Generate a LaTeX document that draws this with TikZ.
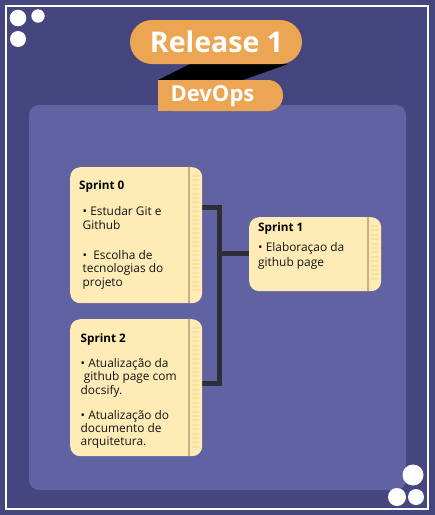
\documentclass[tikz,border=0pt]{standalone}
\usepackage{fontspec}
\setmainfont{Open Sans}
\definecolor{bgc}{HTML}{45467F}
\definecolor{panelc}{HTML}{6162A1}
\definecolor{orangec}{HTML}{ECA653}
\definecolor{creamc}{HTML}{FEEBB6}
\definecolor{stripc}{HTML}{C6B086}
\definecolor{stripec}{HTML}{FCE19B}
\definecolor{linec}{HTML}{2E2E36}
\tikzset{
  sticky/.style={fill=creamc, rounded corners=10pt, draw=none},
  ttl/.style={anchor=base west, inner sep=0pt, font=\fontsize{11.7}{13}\selectfont\bfseries, text=black},
  txt/.style={anchor=base west, inner sep=0pt, font=\fontsize{11.9}{13}\selectfont, text=black!92},
  conn/.style={draw=linec, line width=5pt},
  dot/.style={fill=white, draw=none},
  stripe/.style={draw=stripec, line width=2pt, line cap=round},
}
% #1 name, #2 x0, #3 y0, #4 x1, #5 y1
\newcommand{\mysticky}[5]{%
  \node[inner sep=0pt, minimum width={#4-#2}, minimum height={#5-#3}, anchor=north west, fill=creamc, rounded corners=10pt] (#1) at (#2,#3) {};
  \fill[stripc] ({#4-14.3},#3) rectangle ({#4-11.7},#5);
  \pgfmathsetmacro{\ystart}{#3+9}
  \pgfmathsetmacro{\ysecond}{#3+13.4}
  \pgfmathsetmacro{\yend}{#5-9}
  \foreach \yy in {\ystart,\ysecond,...,\yend}{%
    \draw[stripe] ({#4-9.5},\yy) -- ({#4-3.5},\yy);
  }%
}
\begin{document}
\begin{tikzpicture}[x=1pt,y=-1pt]
\useasboundingbox (0,0) rectangle (435,515);
\fill[bgc] (0,0) rectangle (435,515);
\draw[white, line width=2pt] (6,6) rectangle (428,509);
% corner dots
\fill[dot] (18,18) circle (8.3);
\fill[dot] (38,16) circle (6.7);
\fill[dot] (18,39) circle (8);
% panel
\fill[panelc, rounded corners=10pt] (29,105) rectangle (406,490);
% bottom-right dots
\fill[dot] (413,475) circle (10.5);
\fill[dot] (397,497) circle (9);
\fill[dot] (416,497) circle (8);
% Release pill and shadow
\fill[black] (190,64) -- (288,64) -- (243,80) -- (158,80) -- cycle;
\fill[orangec, rounded corners=22pt] (130,20) rectangle (302,64);
\node[inner sep=0pt, text=white, font=\fontsize{28.5}{30}\selectfont\bfseries] (rel) at (216.5,42) {Release 1};
% DevOps pill
\fill[orangec, rounded corners=15pt] (158,80) rectangle (283,111);
\fill[orangec] (158,80) rectangle (178,111);
\node[inner sep=0pt, text=white, font=\fontsize{22}{23}\selectfont\bfseries] (devops) at (212.5,96) {DevOps};
% connectors
\coordinate (j0) at (219.5,207.5);
\coordinate (j1) at (219.5,253);
\coordinate (j2) at (219.5,383);
\draw[conn] (195,207.5) -- (j0) -- (j2) -- (195,383);
\draw[conn] (j1) -- (255,253);
% stickies
\mysticky{s0}{70}{167}{202}{303}
\mysticky{s1}{249}{217}{381}{291}
\mysticky{s2}{70}{319}{202}{456}
% Sprint 0 text
\node[ttl] (s0t) at (79,189) {Sprint 0};
\node[txt] (s0a) at (82.5,215.5) {• Estudar Git e};
\node[txt] (s0b) at (82.5,229) {Github};
\node[txt] (s0c) at (82.5,259) {•\ \ Escolha de};
\node[txt] (s0d) at (82.5,272.5) {tecnologias do};
\node[txt] (s0e) at (82.5,286.5) {projeto};
% Sprint 1 text
\node[ttl] (s1t) at (258,231) {Sprint 1};
\node[txt] (s1a) at (258,251) {• Elaboraçao da};
\node[txt] (s1b) at (258,266) {github page};
% Sprint 2 text
\node[ttl] (s2t) at (80.5,342) {Sprint 2};
\node[txt] (s2a) at (80.5,367) {• Atualização da};
\node[txt] (s2b) at (80.5,380.5) {\ github page com};
\node[txt] (s2c) at (80.5,394) {docsify.};
\node[txt] (s2d) at (80.5,419) {• Atualização do};
\node[txt] (s2e) at (80.5,432) {documento de};
\node[txt] (s2f) at (80.5,445.5) {arquitetura.};
\end{tikzpicture}
\end{document}
